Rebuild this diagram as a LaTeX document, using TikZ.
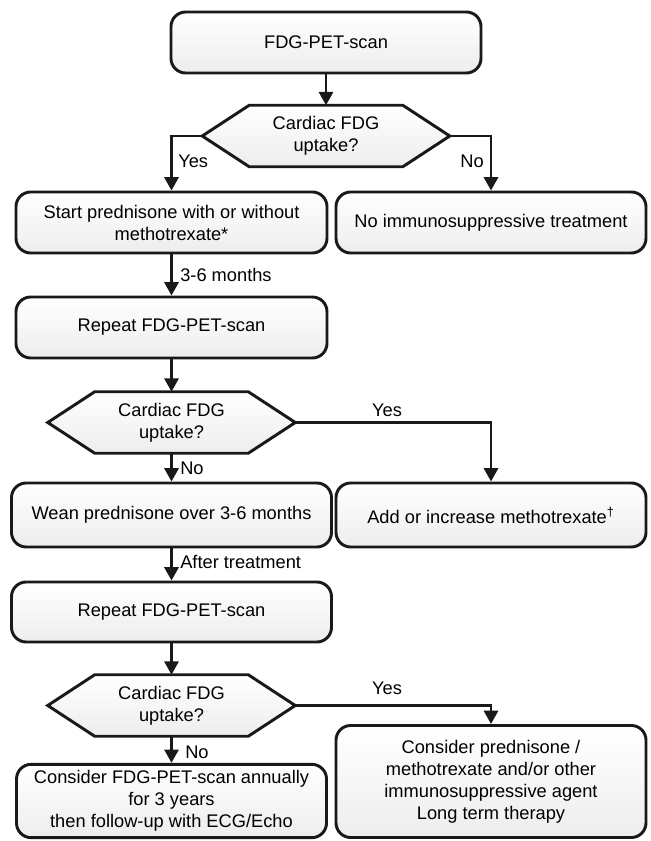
\documentclass[tikz,border=0pt]{standalone}
\usepackage{fontspec}
\setmainfont{Liberation Sans}
\usetikzlibrary{arrows.meta,calc,backgrounds}
\newcommand\hexdraw[1]{%
  \begin{scope}[on background layer]
    \path[hexline] (#1.west) -- ($(#1.north west)+(47,0)$) -- ($(#1.north east)+(-47,0)$) -- (#1.east) -- ($(#1.south east)+(-47,0)$) -- ($(#1.south west)+(47,0)$) -- cycle;
  \end{scope}}
\begin{document}
\begin{tikzpicture}[x=0.75pt,y=-0.75pt,
  font=\fontsize{13.7}{16.5}\selectfont,
  box/.style={draw=black!90,line width=2.2pt,rounded corners=11pt,top color=white,bottom color=black!7,align=center,inner sep=2pt,minimum height=45.75pt},
  hexnode/.style={minimum width=185.25pt,minimum height=45.75pt,inner sep=0pt,align=center},
  hexline/.style={draw=black!90,line width=2.2pt,top color=white,bottom color=black!7},
  arr/.style={draw=black!90,line width=2.2pt,-{Triangle[width=10.5pt,length=10pt]}},
  lab/.style={inner sep=0pt}
]
\useasboundingbox (0,0) rectangle (650,841);
\begin{scope}[on background layer]
  \fill[white] (0,0) rectangle (650,841);
\end{scope}

\node[box,minimum width=232.5pt] (b1) at (326,42.5) {FDG-PET-scan};
\node[hexnode] (d1) at (326,136) {Cardiac FDG\\uptake?};
\hexdraw{d1}
\node[box,minimum width=233.25pt] (b2) at (171.5,222.5) {Start prednisone with or without\\methotrexate*};
\node[box,minimum width=232.5pt] (b3) at (491,222.5) {No immunosuppressive treatment};
\node[box,minimum width=233.25pt] (b4) at (171.5,327.5) {Repeat FDG-PET-scan};
\node[hexnode] (d2) at (171.5,422.5) {Cardiac FDG\\uptake?};
\hexdraw{d2}
\node[box,minimum width=240pt,minimum height=48pt] (b5) at (171.5,515) {Wean prednisone over 3-6 months};
\node[box,minimum width=232.5pt,minimum height=48pt] (b6) at (491,515) {Add or increase methotrexate\textsuperscript{\textdagger}};
\node[box,minimum width=240pt,minimum height=45pt] (b7) at (171.5,612) {Repeat FDG-PET-scan};
\node[hexnode] (d3) at (171.5,705.5) {Cardiac FDG\\uptake?};
\hexdraw{d3}
\node[box,minimum width=232.5pt,minimum height=55pt] (b8) at (171.5,801) {Consider FDG-PET-scan annually\\for 3 years\\then follow-up with ECG/Echo};
\node[box,minimum width=232.5pt,minimum height=84pt] (b9) at (491,781.5) {Consider prednisone /\\methotrexate and/or other\\immunosuppressive agent\\Long term therapy};

\node[lab,anchor=west] (l1) at (178,161) {Yes};
\node[lab,anchor=east] (l2) at (484,161) {No};
\node[lab,anchor=west] (l3) at (180,275) {3-6 months};
\node[lab] (l4) at (387,410) {Yes};
\node[lab,anchor=west] (l5) at (180,468) {No};
\node[lab,anchor=west] (l6) at (180,562) {After treatment};
\node[lab] (l7) at (387,688) {Yes};
\node[lab,anchor=west] (l8) at (185,752) {No};

\draw[arr] (b1.south) -- (d1.north);
\draw[arr] (d1.west) -| (b2.north);
\draw[arr] (d1.east) -| (b3.north);
\draw[arr] (b2.south) -- (b4.north);
\draw[arr] (b4.south) -- (d2.north);
\draw[arr] (d2.east) -| (b6.north);
\draw[arr] (d2.south) -- (b5.north);
\draw[arr] (b5.south) -- (b7.north);
\draw[arr] (b7.south) -- (d3.north);
\draw[arr] (d3.east) -| (b9.north);
\draw[arr] (d3.south) -- (b8.north);
\end{tikzpicture}
\end{document}
